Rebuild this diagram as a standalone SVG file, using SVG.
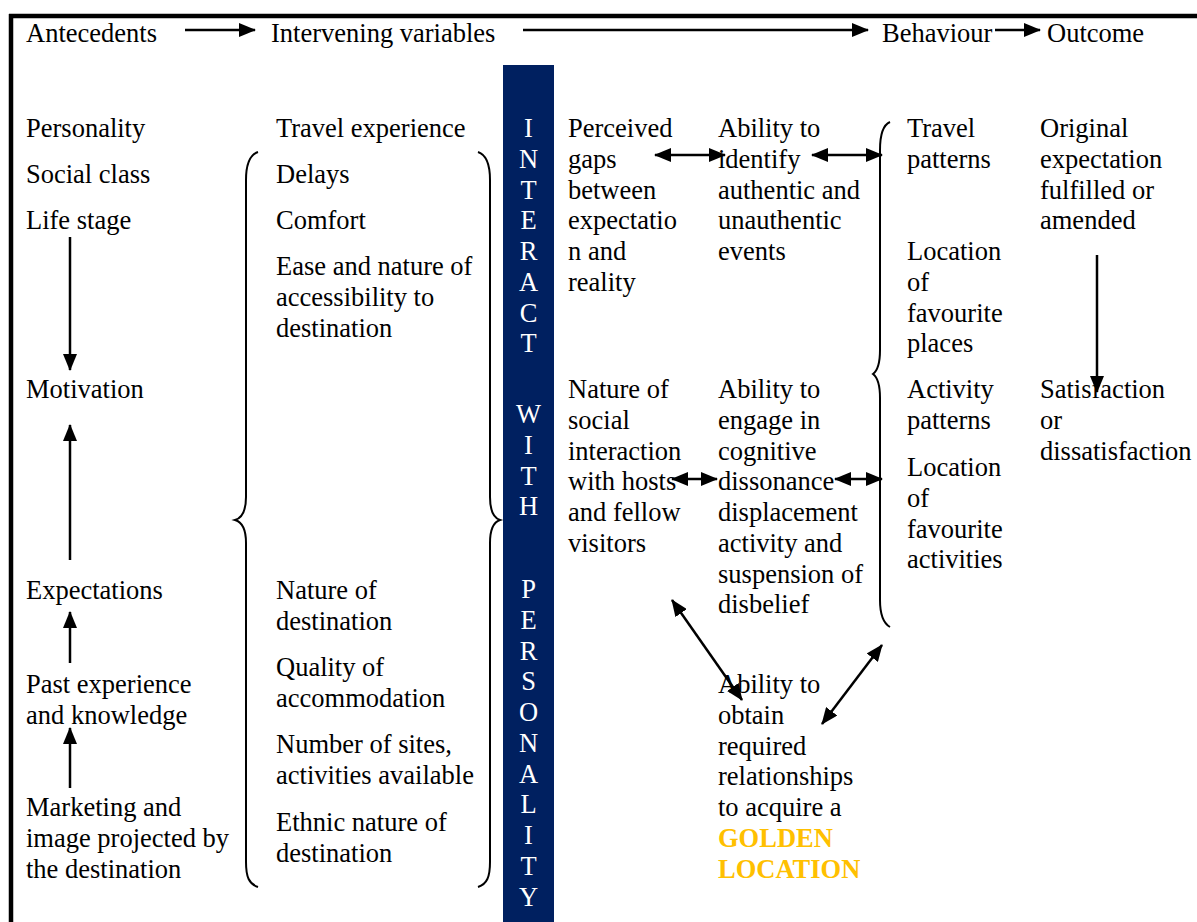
<svg xmlns="http://www.w3.org/2000/svg" width="1197" height="922" viewBox="0 0 1197 922">
  <style>
    .t { font-family: "Liberation Serif", "Times New Roman", serif; font-size: 26.5px; fill: #000; }
    .bar { font-family: "Liberation Serif", "Times New Roman", serif; font-size: 26.5px; fill: #fff; text-anchor: middle; }
    .gold { font-weight: bold; fill: #FFC000; }
    .arr { stroke: #000; stroke-width: 2.5; fill: none; marker-end: url(#head); }
    .dbl { stroke: #000; stroke-width: 2.5; fill: none; marker-start: url(#head); marker-end: url(#head); }
    .brace { stroke: #000; stroke-width: 2; fill: none; }
  </style>
  <defs>
    <marker id="head" markerUnits="userSpaceOnUse" markerWidth="17" markerHeight="14" viewBox="0 0 17 14" refX="16" refY="7" orient="auto-start-reverse">
      <path d="M0,0 L17,7 L0,14 z" fill="#000"/>
    </marker>
  </defs>

  <rect width="1197" height="922" fill="#fff"/>

  <!-- frame: top rule and left rule -->
  <g id="frame">
    <line x1="9" y1="16" x2="1197" y2="16" stroke="#000" stroke-width="4.5"/>
    <line x1="11" y1="14" x2="11" y2="922" stroke="#000" stroke-width="4.5"/>
  </g>

  <!-- column headings -->
  <g id="headings">
    <text class="t" x="26" y="42">Antecedents</text>
    <text class="t" x="271" y="42">Intervening variables</text>
    <text class="t" x="882" y="42">Behaviour</text>
    <text class="t" x="1047" y="42">Outcome</text>
  </g>

  <!-- vertical band -->
  <g id="interact-band">
    <rect x="503" y="65" width="51" height="857" fill="#002060"/>
    <text class="bar" x="528.5" y="137">I</text>
    <text class="bar" x="528.5" y="167.75">N</text>
    <text class="bar" x="528.5" y="198.5">T</text>
    <text class="bar" x="528.5" y="229.25">E</text>
    <text class="bar" x="528.5" y="260">R</text>
    <text class="bar" x="528.5" y="290.75">A</text>
    <text class="bar" x="528.5" y="321.5">C</text>
    <text class="bar" x="528.5" y="352.25">T</text>
    <text class="bar" x="528.5" y="423">W</text>
    <text class="bar" x="528.5" y="453.75">I</text>
    <text class="bar" x="528.5" y="484.5">T</text>
    <text class="bar" x="528.5" y="515.25">H</text>
    <text class="bar" x="528.5" y="598">P</text>
    <text class="bar" x="528.5" y="628.75">E</text>
    <text class="bar" x="528.5" y="659.5">R</text>
    <text class="bar" x="528.5" y="690.25">S</text>
    <text class="bar" x="528.5" y="721">O</text>
    <text class="bar" x="528.5" y="751.75">N</text>
    <text class="bar" x="528.5" y="782.5">A</text>
    <text class="bar" x="528.5" y="813.25">L</text>
    <text class="bar" x="528.5" y="844">I</text>
    <text class="bar" x="528.5" y="874.75">T</text>
    <text class="bar" x="528.5" y="905.5">Y</text>
  </g>

  <!-- antecedents -->
  <g id="antecedents">
    <text class="t" x="26" y="137">Personality</text>
    <text class="t" x="26" y="183">Social class</text>
    <text class="t" x="26" y="229">Life stage</text>
    <text class="t" x="26" y="398">Motivation</text>
    <text class="t" x="26" y="599">Expectations</text>
    <text class="t" x="26" y="693"><tspan x="26">Past experience</tspan><tspan x="26" dy="30.75">and knowledge</tspan></text>
    <text class="t" x="26" y="816"><tspan x="26">Marketing and</tspan><tspan x="26" dy="30.75">image projected by</tspan><tspan x="26" dy="30.75">the destination</tspan></text>
  </g>

  <!-- intervening variables -->
  <g id="intervening">
    <text class="t" x="276" y="137">Travel experience</text>
    <text class="t" x="276" y="183">Delays</text>
    <text class="t" x="276" y="229">Comfort</text>
    <text class="t" x="276" y="275"><tspan x="276">Ease and nature of</tspan><tspan x="276" dy="30.75">accessibility to</tspan><tspan x="276" dy="30.75">destination</tspan></text>
    <text class="t" x="276" y="599"><tspan x="276">Nature of</tspan><tspan x="276" dy="30.75">destination</tspan></text>
    <text class="t" x="276" y="676"><tspan x="276">Quality of</tspan><tspan x="276" dy="30.75">accommodation</tspan></text>
    <text class="t" x="276" y="753"><tspan x="276">Number of sites,</tspan><tspan x="276" dy="30.75">activities available</tspan></text>
    <text class="t" x="276" y="831"><tspan x="276">Ethnic nature of</tspan><tspan x="276" dy="30.75">destination</tspan></text>
  </g>

  <!-- perceptions -->
  <g id="perceived-gaps">
    <text class="t" x="568" y="137"><tspan x="568">Perceived</tspan><tspan x="568" dy="30.75">gaps</tspan><tspan x="568" dy="30.75">between</tspan><tspan x="568" dy="30.75">expectatio</tspan><tspan x="568" dy="30.75">n and</tspan><tspan x="568" dy="30.75">reality</tspan></text>
  </g>
  <g id="social-interaction">
    <text class="t" x="568" y="398"><tspan x="568">Nature of</tspan><tspan x="568" dy="30.75">social</tspan><tspan x="568" dy="30.75">interaction</tspan><tspan x="568" dy="30.75">with hosts</tspan><tspan x="568" dy="30.75">and fellow</tspan><tspan x="568" dy="30.75">visitors</tspan></text>
  </g>
  <g id="identify-authentic">
    <text class="t" x="718" y="137"><tspan x="718">Ability to</tspan><tspan x="718" dy="30.75">identify</tspan><tspan x="718" dy="30.75">authentic and</tspan><tspan x="718" dy="30.75">unauthentic</tspan><tspan x="718" dy="30.75">events</tspan></text>
  </g>
  <g id="cognitive-dissonance">
    <text class="t" x="718" y="398"><tspan x="718">Ability to</tspan><tspan x="718" dy="30.75">engage in</tspan><tspan x="718" dy="30.75">cognitive</tspan><tspan x="718" dy="30.75">dissonance</tspan><tspan x="718" dy="30.75">displacement</tspan><tspan x="718" dy="30.75">activity and</tspan><tspan x="718" dy="30.75">suspension of</tspan><tspan x="718" dy="30.75">disbelief</tspan></text>
  </g>
  <g id="golden-location">
    <text class="t" x="718" y="693"><tspan x="718">Ability to</tspan><tspan x="718" dy="30.75">obtain</tspan><tspan x="718" dy="30.75">required</tspan><tspan x="718" dy="30.75">relationships</tspan><tspan x="718" dy="30.75">to acquire a</tspan><tspan x="718" dy="30.75" class="gold">GOLDEN</tspan><tspan x="718" dy="30.75" class="gold">LOCATION</tspan></text>
  </g>

  <!-- behaviour -->
  <g id="behaviour">
    <text class="t" x="907" y="137"><tspan x="907">Travel</tspan><tspan x="907" dy="30.75">patterns</tspan></text>
    <text class="t" x="907" y="260"><tspan x="907">Location</tspan><tspan x="907" dy="30.75">of</tspan><tspan x="907" dy="30.75">favourite</tspan><tspan x="907" dy="30.75">places</tspan></text>
    <text class="t" x="907" y="398"><tspan x="907">Activity</tspan><tspan x="907" dy="30.75">patterns</tspan></text>
    <text class="t" x="907" y="476"><tspan x="907">Location</tspan><tspan x="907" dy="30.75">of</tspan><tspan x="907" dy="30.75">favourite</tspan><tspan x="907" dy="30.75">activities</tspan></text>
  </g>

  <!-- outcome -->
  <g id="outcome">
    <text class="t" x="1040" y="137"><tspan x="1040">Original</tspan><tspan x="1040" dy="30.75">expectation</tspan><tspan x="1040" dy="30.75">fulfilled or</tspan><tspan x="1040" dy="30.75">amended</tspan></text>
    <text class="t" x="1040" y="398"><tspan x="1040">Satisfaction</tspan><tspan x="1040" dy="30.75">or</tspan><tspan x="1040" dy="30.75">dissatisfaction</tspan></text>
  </g>

  <!-- braces -->
  <g id="braces">
    <path class="brace" d="M258,152 C249,155 246,165 246,180 L246,497 C246,510 242,518 235,520 C242,522 246,530 246,543 L246,862 C246,877 249,884 258,887"/>
    <path class="brace" d="M478,152 C487,155 490,165 490,180 L490,497 C490,510 494,518 500,520 C494,522 490,530 490,543 L490,862 C490,877 487,884 478,887"/>
    <path class="brace" d="M890,122 C883,125 880,135 880,150 L880,350 C880,364 877,371 873,374 C877,377 880,384 880,398 L880,600 C880,615 883,623 890,627"/>
  </g>

  <!-- connectors -->
  <g id="connectors">
    <line class="arr" x1="185" y1="30" x2="255" y2="30"/>
    <line class="arr" x1="523" y1="30" x2="868" y2="30"/>
    <line class="arr" x1="995" y1="30" x2="1040" y2="30"/>

    <line class="arr" x1="70" y1="237" x2="70" y2="370"/>
    <line class="arr" x1="70" y1="560" x2="70" y2="425"/>
    <line class="arr" x1="70" y1="663" x2="70" y2="612"/>
    <line class="arr" x1="70" y1="788" x2="70" y2="728"/>

    <line class="arr" x1="1097" y1="255" x2="1097" y2="392"/>

    <line class="dbl" x1="655" y1="155" x2="725" y2="155"/>
    <line class="dbl" x1="812" y1="155" x2="882" y2="155"/>
    <line class="dbl" x1="672" y1="479" x2="717" y2="479"/>
    <line class="dbl" x1="835" y1="479" x2="882" y2="479"/>

    <line class="dbl" x1="672" y1="600" x2="742" y2="700"/>
    <line class="dbl" x1="882" y1="645" x2="822" y2="724"/>
  </g>
</svg>
